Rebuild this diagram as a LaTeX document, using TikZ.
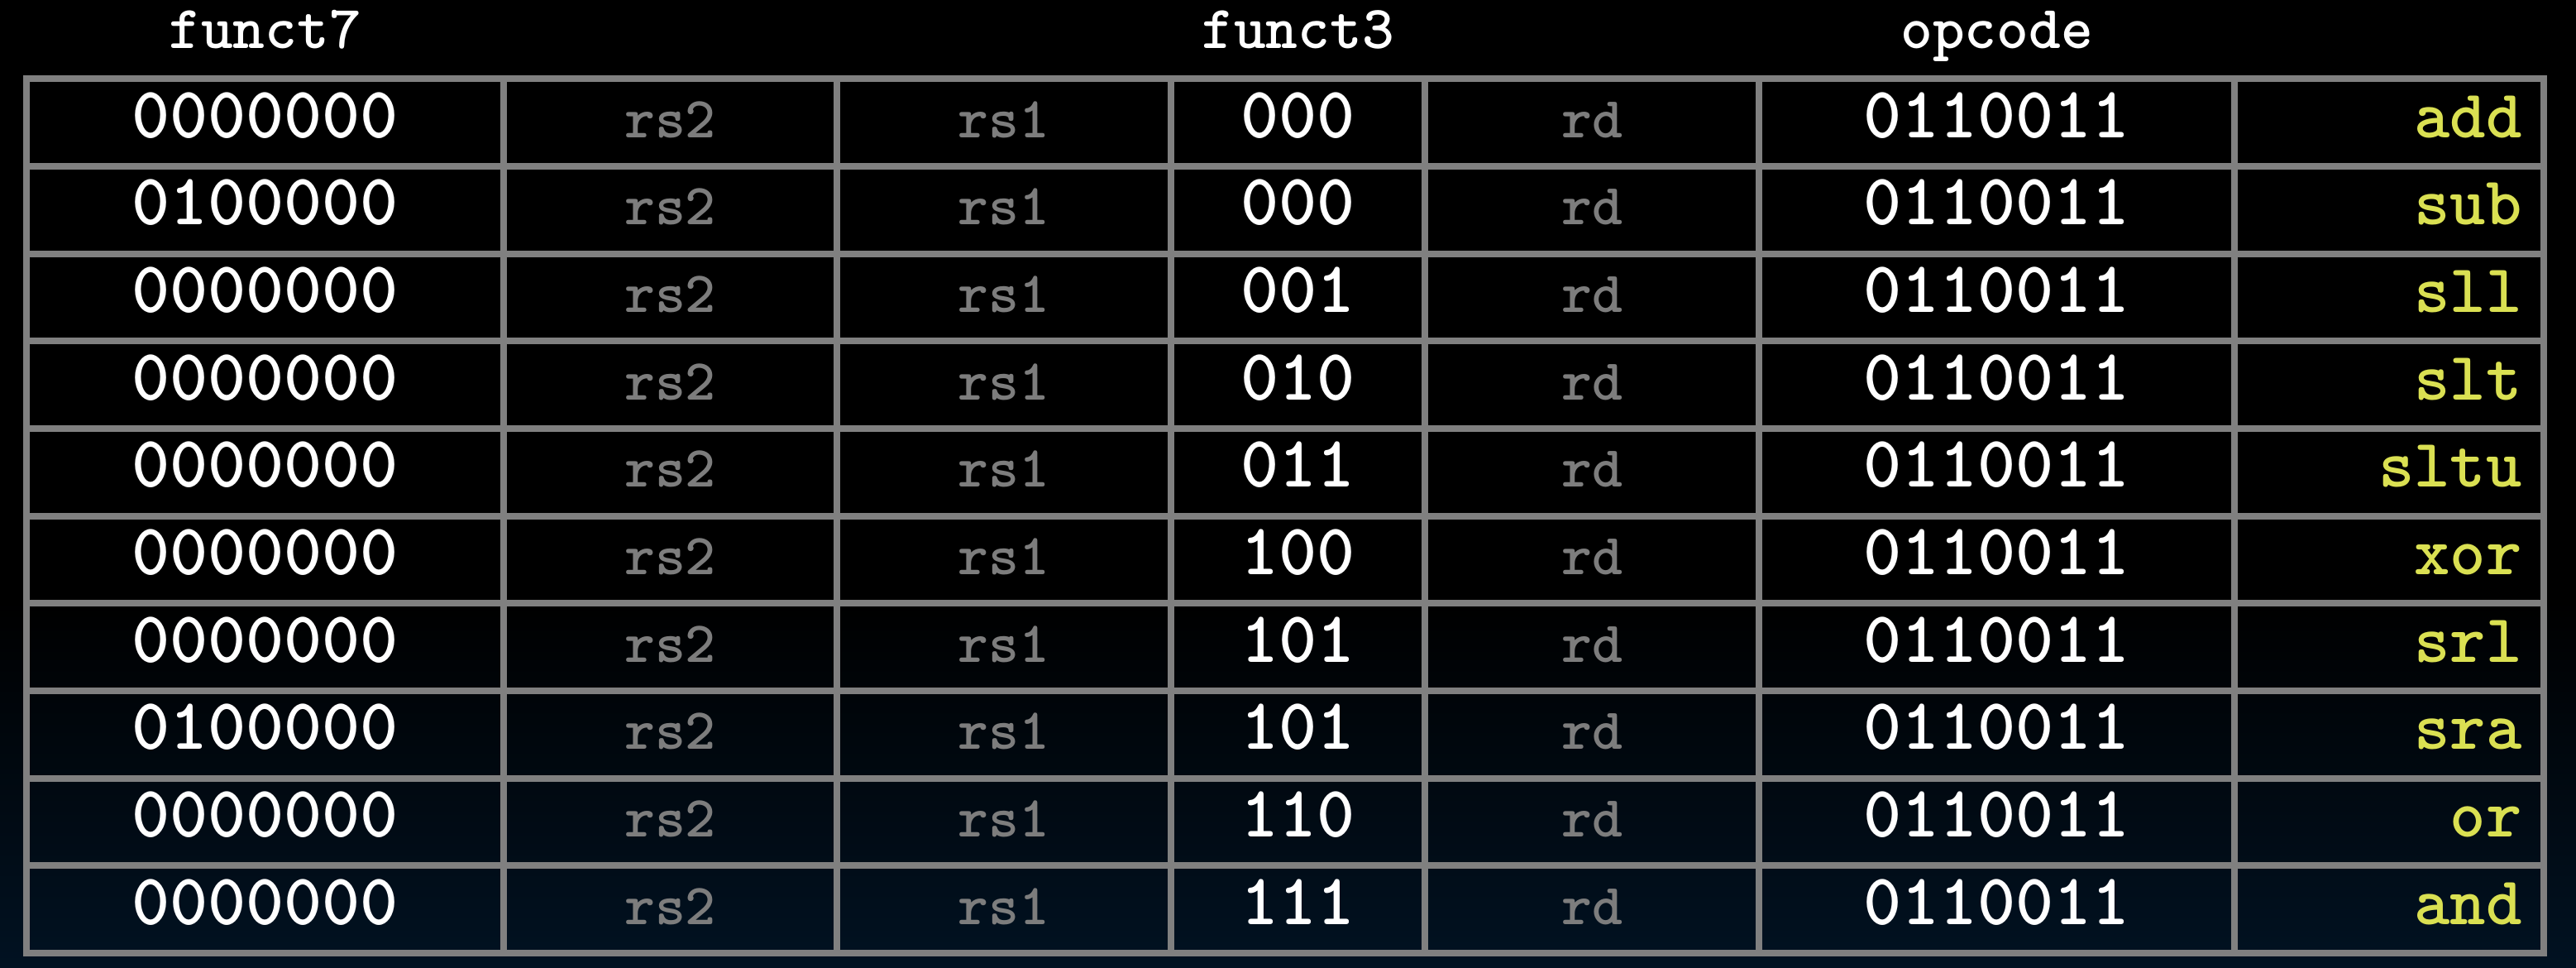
\documentclass[tikz,border=0pt]{standalone}
\usepackage{tikz}
\usepackage{color}
\definecolor{gridgray}{RGB}{128,128,128}
\definecolor{labelgray}{RGB}{125,125,125}
\definecolor{opyellow}{RGB}{218,224,82}
\definecolor{bgnavy}{RGB}{1,18,34}
\pgfdeclareverticalshading{bgfade}{100bp}{color(0bp)=(bgnavy); color(25bp)=(bgnavy); color(44bp)=(black); color(100bp)=(black)}

\begin{document}
\begin{tikzpicture}[x=1cm,y=1cm,
    head/.style={text=white,font=\ttfamily\bfseries\fontsize{21}{21}\selectfont,anchor=base},
    bits/.style={text=white,font=\ttfamily\bfseries\fontsize{25}{25}\selectfont,anchor=base},
    reg/.style={text=labelgray,font=\ttfamily\bfseries\fontsize{20}{20}\selectfont,anchor=base},
    mnem/.style={text=opyellow,font=\ttfamily\bfseries\fontsize{23.5}{23.5}\selectfont,anchor=base east},
    gridline/.style={draw=gridgray,line width=0.08cm}]
                \shade[shading=bgfade] (0,0) rectangle (31.15,11.70);
                \node[head] (funct7) at (3.205,11.11) {funct7};
                \node[head] (funct3) at (15.695,11.11) {funct3};
                \node[head] (opcode) at (24.145,11.11) {opcode};
                \foreach \f/\t/\m [count=\i] in {0000000/000/add,0100000/000/sub,0000000/001/sll,0000000/010/slt,0000000/011/sltu,0000000/100/xor,0000000/101/srl,0100000/101/sra,0000000/110/or,0000000/111/and}{
                    \pgfmathsetmacro\yb{10.745-(\i-0.5)*1.0565-0.18}
                    \node[bits] (f7-\i) at (3.205,\yb) {\f};
                    \node[reg] (rs2-\i) at (8.105,\yb) {rs2};
                    \node[reg] (rs1-\i) at (12.14,\yb) {rs1};
                    \node[bits] (f3-\i) at (15.695,\yb) {\t};
                    \node[reg] (rd-\i) at (19.25,\yb) {rd};
                    \node[bits] (op-\i) at (24.145,\yb) {0110011};
                    \node[mnem] (ins-\i) at (30.62,\yb) {\m};
                }
                \draw[gridline] (0.32,0.18) rectangle (30.76,10.745);
                \foreach \x in {6.09,10.12,14.16,17.23,21.27,27.02}
                    \draw[gridline] (\x,0.18) -- (\x,10.745);
                \foreach \k in {1,...,9}
                    \draw[gridline] (0.32,10.745-\k*1.0565) -- (30.76,10.745-\k*1.0565);
            \end{tikzpicture}
\end{document}
